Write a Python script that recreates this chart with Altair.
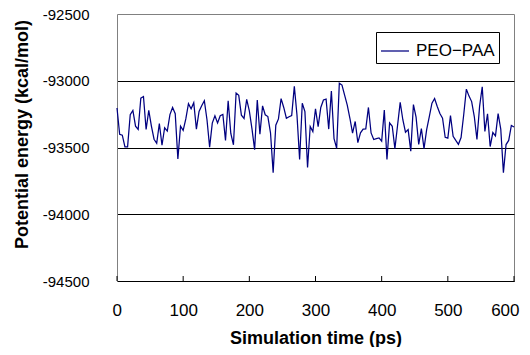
import altair as alt
import pandas as pd

# sampled every 4 ps
time_ps = list(range(0, 601, 4))
energy = [
    -93204, -93401, -93408, -93495, -93495, -93254, -93222, -93340, -93365, -93130,
    -93118, -93365, -93222, -93340, -93438, -93468, -93320, -93483, -93352, -93377,
    -93254, -93200, -93247, -93585, -93340, -93372, -93286, -93172, -93210, -93165,
    -93362, -93230, -93187, -93150, -93292, -93497, -93317, -93262, -93316, -93262,
    -93252, -93448, -93150, -93395, -93480, -93092, -93109, -93258, -93282, -93140,
    -93225, -93360, -93517, -93144, -93400, -93188, -93255, -93268, -93390, -93688,
    -93333, -93286, -93134, -93200, -93281, -93270, -93261, -93042, -93256, -93590,
    -93169, -93231, -93650, -93343, -93381, -93210, -93344, -93200, -93144, -93138,
    -93362, -93077, -93434, -93506, -93018, -93032, -93107, -93182, -93281, -93393,
    -93305, -93463, -93390, -93362, -93360, -93200, -93391, -93440, -93433, -93428,
    -93453, -93220, -93589, -93316, -93341, -93508, -93335, -93162, -93292, -93385,
    -93366, -93527, -93178, -93273, -93477, -93358, -93508, -93366, -93268, -93168,
    -93133, -93193, -93246, -93280, -93424, -93430, -93261, -93416, -93447, -93476,
    -93425, -93255, -93063, -93115, -93156, -93268, -93440, -93192, -93045, -93379,
    -93248, -93493, -93388, -93413, -93246, -93362, -93688, -93478, -93447, -93335,
    -93347,
]
series_name = "PEO\u2212PAA"
x_ticks = [0, 100, 200, 300, 400, 500, 600]
y_ticks = [-94500, -94000, -93500, -93000, -92500]

df = pd.DataFrame({"time": time_ps, "energy": energy, "series": series_name})
tick_df = pd.DataFrame({"time": x_ticks})

W, H = 397, 267
FONT = "Liberation Sans"
X_TITLE = "Simulation time (ps)"

x_axis = alt.Axis(
    values=x_ticks,
    title=X_TITLE,
    ticks=False,
    tickSize=0,
    labelPadding=21,
    labelFont=FONT,
    labelFontSize=17,
    labelColor="black",
    labelFlush=True,
    labelFlushOffset=5,
    labelOverlap=False,
    domainColor="black",
    domainWidth=1,
    grid=True,
    gridColor={"condition": {"test": "datum.value === 600", "value": "#808080"}, "value": "transparent"},
    gridWidth=1,
    titleFont=FONT,
    titleFontSize=18,
    titleFontWeight="bold",
    titleColor="black",
    titleBaseline="alphabetic",
    titleY=62,
)

y_axis = alt.Axis(
    values=y_ticks,
    title="Potential energy (kcal/mol)",
    ticks=False,
    tickSize=0,
    labelPadding=28,
    labelFont=FONT,
    labelFontSize=15,
    labelColor="black",
    labelFlush=False,
    labelOverlap=False,
    labelBaseline="middle",
    labelExpr="datum.value + ''",
    domainColor="#808080",
    domainWidth=1,
    grid=True,
    gridColor={"condition": {"test": "datum.value === -92500", "value": "#808080"}, "value": "black"},
    gridWidth=1,
    titleFont=FONT,
    titleFontSize=18,
    titleFontWeight="bold",
    titleColor="black",
    titleAngle=270,
    titleAlign="center",
    titleBaseline="alphabetic",
    titleX=-90,
    titleY=120,
)

line = alt.Chart(df).mark_line(strokeWidth=1.25).encode(
    x=alt.X("time:Q", scale=alt.Scale(domain=[0, 600], nice=False), axis=x_axis),
    y=alt.Y("energy:Q", scale=alt.Scale(domain=[-94500, -92500], nice=False, zero=False), axis=y_axis),
    color=alt.Color(
        "series:N",
        scale=alt.Scale(range=["#000080"]),
        legend=alt.Legend(
            title=None,
            orient="none",
            legendX=259,
            legendY=18,
            fillColor="white",
            strokeColor="black",
            padding=4,
            symbolType="stroke",
            symbolSize=784,
            symbolStrokeWidth=1.25,
            labelFont=FONT,
            labelFontSize=17,
            labelColor="black",
            labelOffset=6,
        ),
    ),
)

inner_ticks = alt.Chart(tick_df).mark_rule(color="black", strokeWidth=1).encode(
    x=alt.X("time:Q", title=X_TITLE),
    y=alt.value(H - 5),
    y2=alt.value(H),
)

chart = (
    alt.layer(line, inner_ticks)
    .properties(
        width=W,
        height=H,
        padding={"left": 109, "top": 6, "right": 8, "bottom": 66},
        autosize=alt.AutoSizeParams(type="none"),
        background="white",
    )
    .configure_view(stroke="transparent")
)

chart.save("out.html", embed_options={"renderer": "svg", "actions": False})
